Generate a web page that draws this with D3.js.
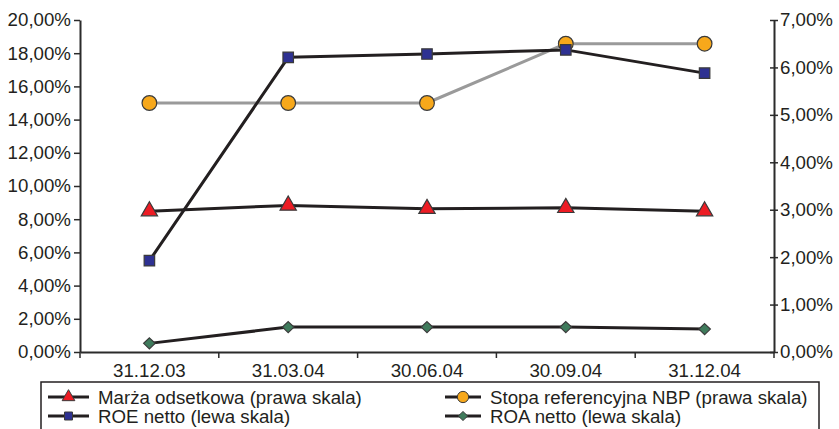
<!DOCTYPE html>
<html>
<head>
<meta charset="utf-8">
<script src="https://cdn.jsdelivr.net/npm/d3@7"></script>
<style>
  html, body { margin: 0; padding: 0; background: #fff; }
  svg { display: block; font-family: "Liberation Sans", Arial, sans-serif; }
</style>
</head>
<body>
<svg id="chart" width="839" height="429"></svg>
<script>
// Quarter-end dates
const categories = ["31.12.03", "31.03.04", "30.06.04", "30.09.04", "31.12.04"];

// Series values in percent
const marzaOdsetkowa = [2.97, 3.09, 3.02, 3.04, 2.97];     // right scale
const stopaReferencyjna = [5.25, 5.25, 5.25, 6.5, 6.5];     // right scale
const roeNetto = [5.5, 17.75, 17.95, 18.2, 16.8];           // left scale
const roaNetto = [0.52, 1.5, 1.5, 1.5, 1.38];               // left scale

// Axis ticks
const leftTicks = [0, 2, 4, 6, 8, 10, 12, 14, 16, 18, 20];
const rightTicks = [0, 1, 2, 3, 4, 5, 6, 7];

const legendLabels = [
  "Marża odsetkowa (prawa skala)",
  "Stopa referencyjna NBP (prawa skala)",
  "ROE netto (lewa skala)",
  "ROA netto (lewa skala)"
];

const svg = d3.select("#chart");
const plot = { left: 80, right: 774, top: 20, bottom: 352 };
const fmt = v => v.toFixed(2).replace(".", ",") + "%";
const fontSize = "18.7px";
const axisColor = "#2b2b2b";

const x = d3.scaleBand().domain(categories).range([plot.left, plot.right]);
const yL = d3.scaleLinear().domain([0, 20]).range([plot.bottom, plot.top]);
const yR = d3.scaleLinear().domain([0, 7]).range([plot.bottom, plot.top]);

// Left axis
const gL = svg.append("g").attr("transform", `translate(${plot.left},0)`)
  .call(d3.axisLeft(yL).tickValues(leftTicks).tickFormat(fmt).tickSizeInner(6).tickSizeOuter(0).tickPadding(3));
// Right axis (ticks cross the line)
const gR = svg.append("g").attr("transform", `translate(${plot.right},0)`)
  .call(d3.axisRight(yR).tickValues(rightTicks).tickFormat(fmt).tickSizeInner(4).tickSizeOuter(0).tickPadding(2));
gR.selectAll(".tick line").attr("x1", -4);
// Bottom axis with ticks at category boundaries
const gB = svg.append("g").attr("transform", `translate(0,${plot.bottom})`)
  .call(d3.axisBottom(x).tickSize(0).tickPadding(12));
gB.selectAll(".tick text").attr("dy", "0.71em");
const boundaries = d3.range(categories.length + 1).map(i => plot.left + i * x.step());
gB.selectAll("line.sep").data(boundaries).join("line").attr("class", "sep")
  .attr("x1", d => d).attr("x2", d => d).attr("y1", 0).attr("y2", 6)
  .attr("stroke", axisColor).attr("stroke-width", 1.5);

[gL, gR, gB].forEach(g => {
  g.select(".domain").attr("stroke", axisColor).attr("stroke-width", 2);
  g.selectAll(".tick line").attr("stroke", axisColor).attr("stroke-width", 1.5);
  g.selectAll(".tick text").attr("fill", "#231f20").style("font-size", fontSize)
    .style("font-family", "'Liberation Sans', Arial, sans-serif");
});

const cx = d => x(d) + x.bandwidth() / 2;

// Squat diamond marker (rotated square)
const diamondShape = r => ({
  draw(ctx) {
    ctx.moveTo(0, -r); ctx.lineTo(r * 1.05, 0); ctx.lineTo(0, r); ctx.lineTo(-r * 1.05, 0); ctx.closePath();
  }
});

// Marker shapes
const sym = {
  triangle: d3.symbol().type(d3.symbolTriangle).size(115),
  square: d3.symbol().type(d3.symbolSquare).size(110),
  circle: d3.symbol().type(d3.symbolCircle).size(170),
  diamond: d3.symbol().type(diamondShape(5.5))
};
const legendSym = {
  triangle: d3.symbol().type(d3.symbolTriangle).size(70),
  square: d3.symbol().type(d3.symbolSquare).size(64),
  circle: d3.symbol().type(d3.symbolCircle).size(100),
  diamond: d3.symbol().type(diamondShape(4.5))
};

const series = [
  { name: legendLabels[1], values: stopaReferencyjna, y: yR, line: "#9a9a9a", key: "circle", fill: "#f7a81b" },
  { name: legendLabels[0], values: marzaOdsetkowa, y: yR, line: "#231f20", key: "triangle", fill: "#ed1c24" },
  { name: legendLabels[3], values: roaNetto, y: yL, line: "#231f20", key: "diamond", fill: "#3f7b5c" },
  { name: legendLabels[2], values: roeNetto, y: yL, line: "#231f20", key: "square", fill: "#2e3192" }
];

series.forEach(s => {
  const pts = categories.map((c, i) => [cx(c), s.y(s.values[i])]);
  svg.append("path").datum(pts)
    .attr("d", d3.line())
    .attr("fill", "none").attr("stroke", s.line).attr("stroke-width", 3)
    .attr("stroke-linejoin", "round");
  svg.append("g").selectAll("path").data(pts).join("path")
    .attr("d", sym[s.key])
    .attr("transform", d => `translate(${d[0]},${d[1]})`)
    .attr("fill", s.fill).attr("stroke", "#3a3a3a").attr("stroke-width", 1.2);
});

// Legend
const legend = svg.append("g");
legend.append("rect").attr("x", 41).attr("y", 382).attr("width", 778).attr("height", 60)
  .attr("fill", "#fff").attr("stroke", "#231f20").attr("stroke-width", 1.5);
const legendItems = [
  { s: series[1], x: 48, y: 397 },
  { s: series[0], x: 445, y: 397 },
  { s: series[3], x: 48, y: 416 },
  { s: series[2], x: 445, y: 416 }
];
legendItems.forEach(it => {
  const g = legend.append("g");
  const w = it.x === 48 ? 41 : 36;
  g.append("line").attr("x1", it.x).attr("x2", it.x + w).attr("y1", it.y).attr("y2", it.y)
    .attr("stroke", "#231f20").attr("stroke-width", 3);
  g.append("path").attr("d", legendSym[it.s.key]())
    .attr("transform", `translate(${it.x + w / 2},${it.y})`)
    .attr("fill", it.s.fill).attr("stroke", "#3a3a3a").attr("stroke-width", 1);
  g.append("text").attr("x", it.x + w + 9).attr("y", it.y).attr("dy", "0.35em")
    .attr("fill", "#231f20").style("font-size", fontSize).text(it.s.name);
});
</script>
</body>
</html>
